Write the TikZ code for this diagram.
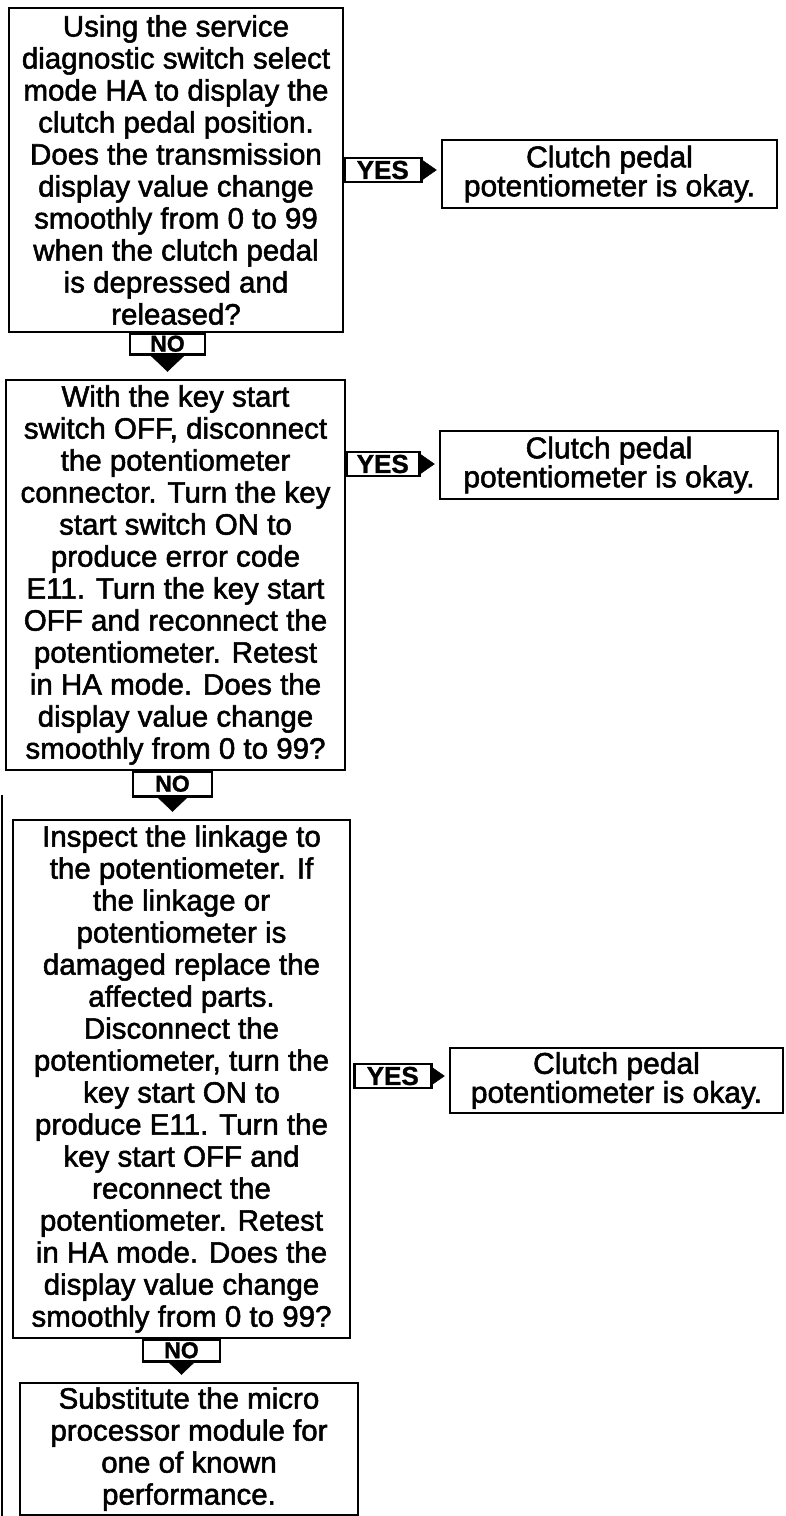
\documentclass[tikz,border=0pt]{standalone}
\usepackage{fontspec}
\setmainfont{Liberation Sans}[FakeBold=1.8]
\newfontfamily\tagfont{Liberation Sans Bold}[FakeBold=1.2]
\usetikzlibrary{arrows.meta}
\begin{document}
\begin{tikzpicture}[x=1pt,y=-1pt,
  stepbox/.style={draw, line width=2.5pt, inner sep=0pt, align=center,
    font=\fontsize{29.5}{32}\selectfont},
  okbox/.style={draw, line width=2.5pt, inner sep=0pt, align=center,
    font=\fontsize{30}{24}\selectfont},
  tagbox/.style={draw, line width=2.5pt, fill=white, inner sep=0pt,
    font=\tagfont\fontsize{26}{26}\selectfont},
  notag/.style={tagbox, anchor=north, font=\tagfont\fontsize{23}{23}\selectfont},
  yesflow/.style={line width=0.5pt, -{Triangle[length=18pt,width=25pt]}, shorten >=4pt},
  noflow/.style={line width=0.5pt, -{Triangle[length=21pt,width=44pt]}, shorten >=7pt}
]
\useasboundingbox (0,0) rectangle (785,1516);

% main column of checks
\node[stepbox, minimum width=334pt, minimum height=324pt] (box1) at (176,170)
  {Using the service\\ diagnostic switch select\\ mode HA to display the\\
   clutch pedal position.\\ Does the transmission\\ display value change\\
   smoothly from 0 to 99\\ when the clutch pedal\\ is depressed and\\ released?};
\node[stepbox, minimum width=339pt, minimum height=390pt] (box2) at (175.5,575)
  {With the key start\\ switch OFF, disconnect\\ the potentiometer\\
   connector. Turn the key\\ start switch ON to\\ produce error code\\
   E11. Turn the key start\\ OFF and reconnect the\\ potentiometer. Retest\\
   in HA mode. Does the\\ display value change\\ smoothly from 0 to 99?};
\node[stepbox, minimum width=337pt, minimum height=518pt] (box3) at (181.5,1079)
  {Inspect the linkage to\\ the potentiometer. If\\ the linkage or\\
   potentiometer is\\ damaged replace the\\ affected parts.\\ Disconnect the\\
   potentiometer, turn the\\ key start ON to\\ produce E11. Turn the\\
   key start OFF and\\ reconnect the\\ potentiometer. Retest\\
   in HA mode. Does the\\ display value change\\ smoothly from 0 to 99?};
\node[stepbox, minimum width=338pt, minimum height=132pt] (box4) at (189,1449)
  {Substitute the micro\\ processor module for\\ one of known\\ performance.};

% outcome boxes
\node[okbox, minimum width=335pt, minimum height=68pt] (ok1) at (609.5,174)
  {Clutch pedal\\ potentiometer is okay.};
\node[okbox, minimum width=338pt, minimum height=68pt] (ok2) at (609,465)
  {Clutch pedal\\ potentiometer is okay.};
\node[okbox, minimum width=333pt, minimum height=65pt] (ok3) at (616.5,1080.5)
  {Clutch pedal\\ potentiometer is okay.};

% positions of the YES and NO tags
\coordinate (y1) at (343,170);
\coordinate (y2) at (345,464);
\coordinate (y3) at (353,1076);
\coordinate (n1) at (167.5,332);
\coordinate (n2) at (172.5,770);
\coordinate (n3) at (181.5,1338);

% arrows, laid under the tags
\path (y1) ++(77,0) coordinate (ye1);
\path (y2) ++(73,0) coordinate (ye2);
\path (y3) ++(77,0) coordinate (ye3);
\path (n1) ++(0,21) coordinate (ns1);
\path (n2) ++(0,25) coordinate (ns2);
\path (n3) ++(0,22) coordinate (ns3);
\draw[yesflow] (ye1) -- (ye1 -| ok1.west);
\draw[yesflow] (ye2) -- (ye2 -| ok2.west);
\draw[yesflow] (ye3) -- (ye3 -| ok3.west);
\draw[noflow] (ns1) -- (ns1 |- box2.north);
\draw[noflow] (ns2) -- (ns2 |- box3.north);
\draw[noflow] (ns3) -- (ns3 |- box4.north);

% YES tags on the right edges
\node[tagbox, anchor=west, minimum width=77pt, minimum height=24pt] (yes1) at (y1) {YES};
\node[tagbox, anchor=west, minimum width=73pt, minimum height=24pt] (yes2) at (y2) {YES};
\node[tagbox, anchor=west, minimum width=77pt, minimum height=24pt] (yes3) at (y3) {YES};

% NO tags under the bottom edges
\node[notag, minimum width=75pt, minimum height=21pt] (no1) at (n1) {NO};
\node[notag, minimum width=79pt, minimum height=25pt] (no2) at (n2) {NO};
\node[notag, minimum width=77pt, minimum height=22pt] (no3) at (n3) {NO};

% page edge
\draw[line width=1.5pt] (2,795) -- (2,1516);
\end{tikzpicture}
\end{document}
